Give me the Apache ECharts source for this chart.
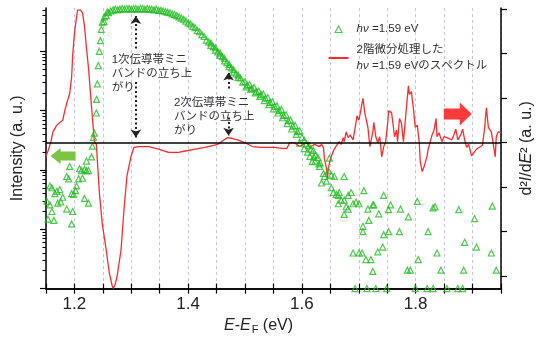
<!DOCTYPE html>
<html>
<head>
<meta charset="utf-8">
<script src="https://cdn.jsdelivr.net/npm/echarts@6/dist/echarts.min.js"></script>
<style>
html,body{margin:0;padding:0;background:#fff}
#main{width:543px;height:340px}
</style>
</head>
<body>
<div id="main"></div>
<script>
//photoemission intensity (log10 of counts, a.u.) vs E-EF, hv = 1.59 eV
//low-energy scattered points
var hvNoise = [
	[1.1517,1.47],[1.1535,1.17],[1.1569,1.73],[1.1569,1.41],[1.1604,1.70],[1.1604,1.30],
	[1.1639,1.15],[1.1656,1.60],[1.1691,1.64],[1.1708,1.44],[1.1743,1.67],[1.1760,1.46],
	[1.1795,1.54],[1.1865,1.89],[1.1865,1.34],[1.1899,1.85],[1.1917,2.06],[1.1951,1.60],
	[1.1951,1.09],[1.1969,1.30],[1.1986,1.59],[1.2021,1.65],[1.2038,1.73],[1.2073,1.85],
	[1.2090,2.02],[1.2125,1.99],[1.2142,1.86],[1.2177,2.01],[1.2177,1.52],[1.2212,2.15],
	[1.2212,1.99],[1.2247,1.99],[1.2247,1.44]
];
//rising edge
var hvRise = [
	[1.2300,2.22],[1.2316,2.40],[1.2335,2.55],[1.2350,2.62],[1.2385,2.96],[1.2390,3.19],
	[1.2403,3.45],[1.2420,3.76],[1.2438,4.00],[1.2455,4.18],[1.2472,4.37],[1.2490,4.49],
	[1.2524,4.58],[1.2576,4.66]
];
//dense main band
var hvBand = [
	[1.252,4.50],[1.256,4.60],[1.260,4.65],[1.264,4.68],[1.268,4.70],[1.272,4.71],[1.276,4.70],
	[1.280,4.71],[1.284,4.72],[1.288,4.71],[1.292,4.72],[1.296,4.72],[1.300,4.71],[1.304,4.72],
	[1.308,4.72],[1.312,4.71],[1.316,4.72],[1.320,4.72],[1.324,4.71],[1.328,4.72],[1.332,4.71],
	[1.336,4.71],[1.340,4.70],[1.344,4.71],[1.348,4.69],[1.352,4.69],[1.356,4.68],[1.360,4.67],
	[1.364,4.66],[1.368,4.65],[1.372,4.63],[1.376,4.62],[1.380,4.60],[1.384,4.58],[1.388,4.56],
	[1.392,4.54],[1.396,4.51],[1.400,4.48],[1.404,4.46],[1.408,4.42],[1.412,4.40],[1.416,4.35],
	[1.420,4.33],[1.424,4.28],[1.428,4.25],[1.432,4.19],[1.436,4.16],[1.440,4.10],[1.444,4.08],
	[1.448,4.02],[1.452,3.99],[1.456,3.93],[1.460,3.91],[1.464,3.84],[1.468,3.81],[1.472,3.74],
	[1.476,3.72],[1.480,3.65],[1.484,3.62],[1.488,3.56],[1.492,3.55],[1.496,3.48],[1.500,3.49],
	[1.504,3.43],[1.508,3.44],[1.512,3.37],[1.516,3.39],[1.520,3.32],[1.524,3.33],[1.528,3.27],
	[1.532,3.28],[1.536,3.21],[1.540,3.22],[1.544,3.14],[1.548,3.15],[1.552,3.07],[1.556,3.08],
	[1.560,3.00],[1.564,3.02],[1.568,2.92],[1.572,2.93],[1.576,2.83],[1.580,2.84],[1.584,2.74],
	[1.588,2.75],[1.592,2.65],[1.596,2.66],[1.600,2.55],[1.604,2.50],[1.608,2.44],[1.612,2.41],
	[1.616,2.35],[1.620,2.33],[1.624,2.25],[1.628,2.21],[1.632,2.12]
];
//second (lower) track of the band
var hvBand2 = [
	[1.440,4.14],[1.448,4.06],[1.456,3.97],[1.464,3.88],[1.472,3.78],[1.480,3.69],[1.488,3.60],
	[1.502,3.40],[1.510,3.36],[1.518,3.30],[1.526,3.24],[1.534,3.17],[1.542,3.10],[1.550,3.03],
	[1.558,2.96],[1.566,2.88],[1.574,2.78],[1.582,2.69],[1.590,2.60],[1.596,2.45],[1.604,2.36],
	[1.610,2.30],[1.614,2.23],[1.618,2.14],[1.621,2.22],[1.623,2.15],[1.630,2.10],[1.631,2.06]
];
//high-energy tail (0 = below detection, drawn on the axis)
var hvTail = [
	[1.6344,1.78],[1.6378,1.94],[1.6396,1.89],[1.6431,1.81],[1.6465,1.99],[1.6483,2.20],
	[1.6517,1.91],[1.6569,1.89],[1.6517,1.70],[1.6552,1.62],[1.6604,1.59],[1.6639,1.57],
	[1.6656,1.62],[1.6639,1.43],[1.6691,1.49],[1.6743,1.89],[1.6743,1.49],[1.6813,1.57],
	[1.6865,1.62],[1.6778,1.38],[1.6813,1.34],[1.6743,1.25],[1.6899,1.43],[1.6951,1.46],
	[1.7003,1.43],[1.7090,1.65],[1.7160,1.34],[1.7247,1.41],[1.7264,1.41],[1.7351,1.26],
	[1.7438,1.57],[1.7559,1.41],[1.7524,1.33],[1.7733,1.34],[1.8028,1.47],[1.7872,1.21],
	[1.8340,1.38],[1.8306,1.36],[1.8757,1.33],[1.9347,1.39],[1.9035,1.18],[1.7073,1.05],
	[1.7073,0.96],[1.7177,1.15],[1.7438,0.91],[1.7524,0.96],[1.7715,0.96],[1.8219,0.96],
	[1.8861,0.78],[1.7420,0.70],[1.7333,0.62],[1.6899,0.60],[1.7003,0.60],[1.7056,0.60],
	[1.8375,0.60],[1.9069,0.70],[1.9330,0.60],[1.7125,0.49],[1.7212,0.49],[1.8045,0.49],
	[1.7247,0.29],[1.7854,0.31],[1.7906,0.31],[1.8444,0.31],[1.8844,0.31],[1.9417,0.31],
	[1.6934,0],[1.7142,0],[1.7299,0],[1.7490,0],[1.7993,0],[1.8201,0],[1.8306,0],
	[1.8549,0],[1.8740,0],[1.8826,0]
];

//2nd derivative d2I/dE2 (a.u.)
var d2Spectrum = [
	[1.1500,-0.30],[1.1535,-0.19],[1.1587,0.02],[1.1622,0.24],[1.1691,0.39],[1.1743,0.45],
	[1.1795,0.50],[1.1830,0.71],[1.1865,0.88],[1.1917,1.10],[1.1951,1.47],[1.1969,1.96],
	[1.2003,2.48],[1.2038,2.82],[1.2056,2.97],[1.2108,2.97],[1.2142,2.91],[1.2177,2.61],
	[1.2212,2.11],[1.2247,1.68],[1.2299,0.82],[1.2351,0.02],[1.2385,-0.04],[1.2438,-1.12],
	[1.2490,-1.83],[1.2559,-2.41],[1.2611,-2.91],[1.2663,-3.21],[1.2681,-3.27],[1.2715,-3.19],
	[1.2750,-3.00],[1.2819,-2.41],[1.2872,-1.49],[1.2924,-0.75],[1.2993,-0.32],[1.3045,-0.11],
	[1.3132,-0.09],[1.3306,-0.09],[1.3479,-0.15],[1.3653,-0.22],[1.3826,-0.22],[1.3948,-0.19],
	[1.4122,-0.15],[1.4295,-0.11],[1.4521,-0.04],[1.4608,0.04],[1.4694,0.11],[1.4781,0.09],
	[1.4868,0.06],[1.4990,0.00],[1.5128,-0.09],[1.5267,-0.11],[1.5510,-0.11],[1.5649,-0.13],
	[1.5736,-0.13],[1.5788,0.00],[1.5858,0.00],[1.5962,-0.09],[1.6083,0.00],[1.6135,-0.11],
	[1.6222,-0.04],[1.6309,-0.09],[1.6344,-0.04],[1.6378,-0.11],[1.6396,-0.37],[1.6431,-0.58],
	[1.6448,-0.80],[1.6465,-0.58],[1.6500,-0.37],[1.6552,-0.19],[1.6587,-0.11],[1.6622,-0.15],
	[1.6656,0.02],[1.6691,-0.04],[1.6726,0.11],[1.6743,0.02],[1.6778,0.24],[1.6813,0.11],
	[1.6847,0.17],[1.6899,0.06],[1.6934,0.32],[1.6969,0.60],[1.7003,0.50],[1.7073,0.99],
	[1.7108,0.65],[1.7160,0.34],[1.7194,-0.09],[1.7247,0.24],[1.7264,0.45],[1.7299,0.13],
	[1.7333,0.00],[1.7368,0.13],[1.7403,-0.32],[1.7438,-0.09],[1.7472,0.02],[1.7507,0.43],
	[1.7524,0.71],[1.7576,0.67],[1.7611,0.32],[1.7628,0.13],[1.7663,0.28],[1.7681,0.02],
	[1.7715,0.54],[1.7750,0.43],[1.7785,0.02],[1.7837,0.78],[1.7872,1.27],[1.7889,1.08],
	[1.7924,1.14],[1.7958,0.78],[1.7993,0.34],[1.8028,0.39],[1.8063,0.00],[1.8080,-0.43],
	[1.8115,-0.65],[1.8149,-0.54],[1.8201,-0.30],[1.8219,-0.15],[1.8253,-0.19],[1.8288,0.17],
	[1.8323,0.28],[1.8358,0.54],[1.8375,0.13],[1.8410,0.22],[1.8462,0.02],[1.8497,0.13],
	[1.8549,0.11],[1.8583,0.11],[1.8635,0.06],[1.8670,0.17],[1.8705,0.30],[1.8740,0.06],
	[1.8792,0.17],[1.8826,0.30],[1.8861,0.06],[1.8896,-0.11],[1.8931,-0.04],[1.8983,-0.30],
	[1.9017,-0.34],[1.9069,-0.15],[1.9104,-0.11],[1.9174,-0.06],[1.9208,0.28],[1.9243,0.78],
	[1.9278,0.34],[1.9330,0.24],[1.9365,-0.04],[1.9399,-0.32],[1.9417,0.13],[1.9451,0.24],
	[1.9503,0.22]
];

//tick labels / axis ranges
var xLabels = [1.2, 1.4, 1.6, 1.8];
var logMajor = [0, 1, 2, 3, 4];
var d2Ticks = [-3, -2, -1, 0, 1, 2, 3];

var FONT = "'Liberation Sans', 'Noto Sans CJK JP', sans-serif";
var GREEN = '#22bb22';
var RED = '#ff2a2a';

//log minor ticks (2..9 in each decade)
var logMinor = [];
logMajor.forEach(function(d){
	for(var k = 2; k <= 9; k++){
		var v = d + Math.log10(k);
		if(v < 4.73) logMinor.push(v);
	}
});

var myChart = echarts.init(document.getElementById('main'));

function dotArrow(x, y1, y2){
	return [
		{coord:[x, y1], symbol:'none'},
		{coord:[x, y2], symbol:'arrow', symbolSize:8}
	];
}

var option = {
	animation: false,
	textStyle: {fontFamily: FONT},
	grid: {left: 46, right: 36, top: 8, bottom: 40},
	legend: {
		orient: 'vertical',
		left: 328, top: 21, padding: 0,
		itemWidth: 20, itemHeight: 7, itemGap: 5,
		textStyle: {
			fontFamily: FONT, fontSize: 11.5, color: '#333', lineHeight: 16,
			padding: [0, 0, 0, 3],
			rich: {i: {fontStyle: 'italic', fontFamily: FONT, fontSize: 11.5, color: '#333'}}
		},
		formatter: function(name){
			if(name == 'hv') return '{i|hν} =1.59 eV';
			return '2階微分処理した\n{i|hν} =1.59 eVのスペクトル';
		},
		data: [
			{name: 'hv', icon: 'path://M0,0 M20,7 M6.5,7 L10,0.5 L13.5,7 Z',
				itemStyle: {color: 'rgba(255,255,255,0)', borderColor: GREEN, borderWidth: 1.2}},
			{name: 'd2', icon: 'path://M0,0 M20,7 M0,2.5 L20,2.5 L20,4.5 L0,4.5 Z',
				itemStyle: {color: RED, borderWidth: 0}}
		]
	},
	xAxis: [{
		type: 'value', min: 1.15, max: 1.95, interval: 0.05, position: 'bottom',
		axisLine: {lineStyle: {color: '#000', width: 1.5}},
		axisTick: {inside: true, length: 5, lineStyle: {color: '#000', width: 1.2}},
		axisLabel: {customValues: xLabels, fontSize: 17, color: '#222', margin: 7, fontFamily: FONT},
		splitLine: {show: true, lineStyle: {color: '#c4c4f0', type: [3, 3], width: 1}},
		name: '{i|E}-{i|E}{s|F}{t| (eV)}',
		nameLocation: 'middle', nameGap: 24,
		nameTextStyle: {
			fontFamily: FONT, fontSize: 16, color: '#222', padding: [0, 30, 0, 0],
			rich: {
				i: {fontStyle: 'italic', fontSize: 16, color: '#222', fontFamily: FONT},
				s: {fontSize: 11, color: '#222', padding: [8, 0, 0, 1], fontFamily: FONT},
				t: {fontSize: 16, color: '#222', fontFamily: FONT}
			}
		}
	}, {
		type: 'value', min: 1.15, max: 1.95, interval: 0.05, position: 'top',
		axisLine: {lineStyle: {color: '#000', width: 1.5}},
		axisTick: {inside: true, length: 5, lineStyle: {color: '#000', width: 1.2}},
		axisLabel: {show: false},
		splitLine: {show: false}
	}],
	yAxis: [{
		//intensity, log10 scale
		type: 'value', min: 0, max: 4.73, position: 'left',
		axisLine: {show: true, lineStyle: {color: '#000', width: 1.5}},
		axisTick: {show: true, customValues: logMajor, length: 6, lineStyle: {color: '#000', width: 1.2}},
		axisLabel: {show: false},
		splitLine: {show: false},
		name: 'Intensity (a. u.)', nameLocation: 'middle', nameGap: 20, nameRotate: 90,
		nameTextStyle: {fontFamily: FONT, fontSize: 16, color: '#222'}
	}, {
		type: 'value', min: 0, max: 4.73, position: 'left',
		axisLine: {show: false},
		axisTick: {show: true, customValues: logMinor, length: 3.5, lineStyle: {color: '#000', width: 1}},
		axisLabel: {show: false},
		splitLine: {show: false}
	}, {
		//d2I/dE2
		type: 'value', min: -3.276, max: 3.017, position: 'right',
		axisLine: {show: true, lineStyle: {color: '#000', width: 1.5}},
		axisTick: {show: true, customValues: d2Ticks, length: 6, lineStyle: {color: '#000', width: 1.2}},
		axisLabel: {show: false},
		splitLine: {show: false},
		name: '{t|d²}{i|I}{t|/d}{i|E}{t|² (a. u.)}', nameLocation: 'middle', nameGap: 18, nameRotate: 90,
		nameTextStyle: {
			fontFamily: FONT, fontSize: 16, color: '#222',
			rich: {
				i: {fontStyle: 'italic', fontSize: 16, color: '#222', fontFamily: FONT},
				t: {fontSize: 16, color: '#222', fontFamily: FONT}
			}
		}
	}],
	series: [{
		name: 'd2',
		type: 'line',
		yAxisIndex: 2,
		symbol: 'none',
		data: d2Spectrum,
		lineStyle: {color: RED, width: 1.3},
		itemStyle: {color: RED},
		z: 3,
		markLine: {
			silent: true,
			symbol: 'none',
			label: {show: false},
			data: [
				{yAxis: 0, lineStyle: {color: '#000', width: 1.5, type: 'solid'}},
				dotArrow(1.308, 2.11, 2.84),
				dotArrow(1.308, 1.36, 0.11),
				dotArrow(1.471, 1.21, 1.57),
				dotArrow(1.471, 0.56, 0.15)
			],
			lineStyle: {color: '#222', width: 2, type: [2, 2.5]}
		},
		markPoint: {
			silent: true,
			data: [{
				coord: [1.2646, 1.53], symbol: 'rect', symbolSize: 1, itemStyle: {color: 'rgba(0,0,0,0)'},
				label: {show: true, position: 'right', distance: 0, formatter: '1次伝導帯ミニ\nバンドの立ち上\nがり'}
			}, {
				coord: [1.374, 0.58], symbol: 'rect', symbolSize: 1, itemStyle: {color: 'rgba(0,0,0,0)'},
				label: {show: true, position: 'right', distance: 0, formatter: '2次伝導帯ミニ\nバンドの立ち上\nがり'}
			}, {
				coord: [1.180, -0.30], symbol: 'path://M0,8 L10,0 L10,3.5 L25,3.5 L25,12.5 L10,12.5 L10,16 Z',
				symbolSize: [25, 16], itemStyle: {color: '#7cc444'}, label: {show: false}
			}, {
				coord: [1.874, 0.64], symbol: 'path://M28,11.5 L16,0 L16,6 L0,6 L0,17 L16,17 L16,23 Z',
				symbolSize: [28, 23], itemStyle: {color: '#ff3b3b'}, label: {show: false}
			}],
			label: {fontFamily: FONT, fontSize: 11.5, lineHeight: 14, color: '#333', align: 'left', verticalAlign: 'middle'}
		}
	}, {
		name: 'hv',
		type: 'scatter',
		yAxisIndex: 0,
		symbol: 'triangle',
		symbolSize: 6,
		data: hvNoise.concat(hvRise, hvBand, hvBand2, hvTail),
		itemStyle: {color: 'rgba(255,255,255,0)', borderColor: GREEN, borderWidth: 1.2},
		z: 4
	}]
};
myChart.setOption(option);
</script>
</body>
</html>
